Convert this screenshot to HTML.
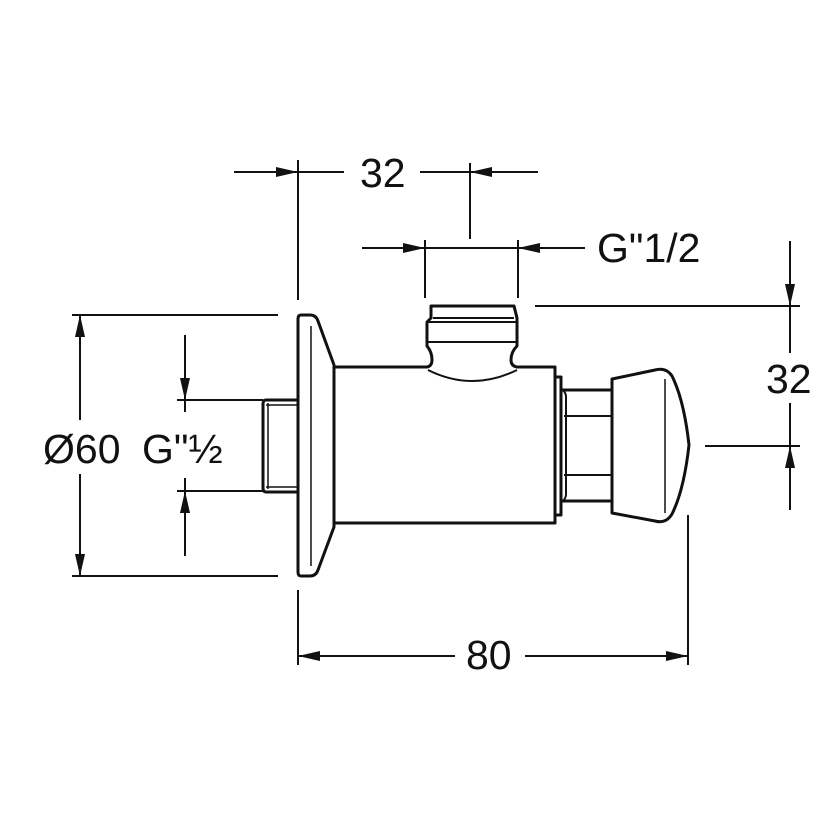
<!DOCTYPE html>
<html><head><meta charset="utf-8"><style>html,body{margin:0;padding:0;background:#fff}svg{display:block}</style></head>
<body>
<svg width="830" height="830" viewBox="0 0 830 830" xmlns="http://www.w3.org/2000/svg">
<defs>
<marker id="a" markerWidth="22" markerHeight="12" refX="22" refY="6" orient="auto" markerUnits="userSpaceOnUse">
<path d="M0,1 L22,6 L0,11 Z" fill="#111"/>
</marker>
</defs>
<g stroke="#111" stroke-width="2" fill="none">
<line x1="298" y1="160" x2="298" y2="300"/>
<line x1="470" y1="163" x2="470" y2="239"/>
<line x1="234" y1="172" x2="298" y2="172" marker-end="url(#a)"/>
<line x1="298" y1="172" x2="344" y2="172"/>
<line x1="420" y1="172" x2="470" y2="172"/>
<line x1="538" y1="172" x2="470" y2="172" marker-end="url(#a)"/>
<line x1="425" y1="240" x2="425" y2="298"/>
<line x1="518" y1="240" x2="518" y2="298"/>
<line x1="362" y1="248" x2="425" y2="248" marker-end="url(#a)"/>
<line x1="425" y1="248" x2="518" y2="248"/>
<line x1="585" y1="248" x2="518" y2="248" marker-end="url(#a)"/>
<line x1="535" y1="306" x2="800" y2="306"/>
<line x1="705" y1="446" x2="800" y2="446"/>
<line x1="790" y1="241" x2="790" y2="306" marker-end="url(#a)"/>
<line x1="790" y1="306" x2="790" y2="353"/>
<line x1="790" y1="403" x2="790" y2="446"/>
<line x1="790" y1="510" x2="790" y2="446" marker-end="url(#a)"/>
<line x1="72" y1="315" x2="278" y2="315"/>
<line x1="72" y1="576" x2="278" y2="576"/>
<line x1="80" y1="420" x2="80" y2="315" marker-end="url(#a)"/>
<line x1="80" y1="474" x2="80" y2="576" marker-end="url(#a)"/>
<line x1="177" y1="400" x2="263" y2="400"/>
<line x1="177" y1="491" x2="263" y2="491"/>
<line x1="185" y1="335" x2="185" y2="400" marker-end="url(#a)"/>
<line x1="185" y1="400" x2="185" y2="412"/>
<line x1="185" y1="556" x2="185" y2="491" marker-end="url(#a)"/>
<line x1="185" y1="491" x2="185" y2="478"/>
<line x1="298" y1="590" x2="298" y2="665"/>
<line x1="688" y1="515" x2="688" y2="665"/>
<line x1="455" y1="656" x2="298" y2="656" marker-end="url(#a)"/>
<line x1="525" y1="656" x2="688" y2="656" marker-end="url(#a)"/>
</g>
<g stroke="#111" stroke-width="3" fill="none" stroke-linejoin="round">
<path d="M298,400 L266,400 Q263,400 263,404 L263,488 Q263,492 266,492 L298,492"/>
<line x1="268" y1="403" x2="268" y2="489" stroke-width="1.5"/>
<line x1="266" y1="405" x2="298" y2="405" stroke-width="1.5"/>
<line x1="266" y1="487" x2="298" y2="487" stroke-width="1.5"/>
<path d="M301,315 L310,315 Q316,315 318,321 L334,365 L334,527 L318,570 Q316,576 310,576 L301,576 Q298,576 298,572 L298,319 Q298,315 301,315 Z" fill="#fff"/>
<line x1="311" y1="326" x2="311" y2="566" stroke-width="1.5"/>
<path d="M334,367 L427,367 Q432,366 432,360 Q432,352 427,346 L427,322 L431,318 L431,306 L514,306 L517,318 L517,346 Q511,352 511,360 Q511,366 517,367 L555,367 L555,523 L334,523"/>
<line x1="433" y1="318" x2="514" y2="318" stroke-width="2"/>
<line x1="427" y1="322" x2="517" y2="322" stroke-width="2"/>
<line x1="427" y1="342" x2="517" y2="342" stroke-width="2"/>
<path d="M428,370 Q472,392 517,370" stroke-width="2"/>
<path d="M555,377 L561,377 L561,515 L555,515"/>
<path d="M561,390 L612,390 M561,501 L612,501"/>
<path d="M563,390 Q566,393 566,397 L566,494 Q566,498 563,501" stroke-width="2"/>
<line x1="564" y1="416" x2="612" y2="416" stroke-width="2"/>
<line x1="564" y1="475" x2="612" y2="475" stroke-width="2"/>
<path d="M612,379 L655,370 Q666,367 672,376 Q684,400 689,445 Q684,490 672,514 Q666,524 655,521 L612,513 Z" fill="#fff"/>
<line x1="665" y1="379" x2="665" y2="513" stroke-width="1.5"/>
</g>
<g font-family="Liberation Sans, sans-serif" font-size="41" fill="#111">
<text x="360" y="187">32</text>
<text x="597" y="262">G"1/2</text>
<text x="766" y="393">32</text>
<text x="43" y="463">Ø60</text>
<text x="142" y="463">G"½</text>
<text x="466" y="669">80</text>
</g>
</svg>
</body></html>
